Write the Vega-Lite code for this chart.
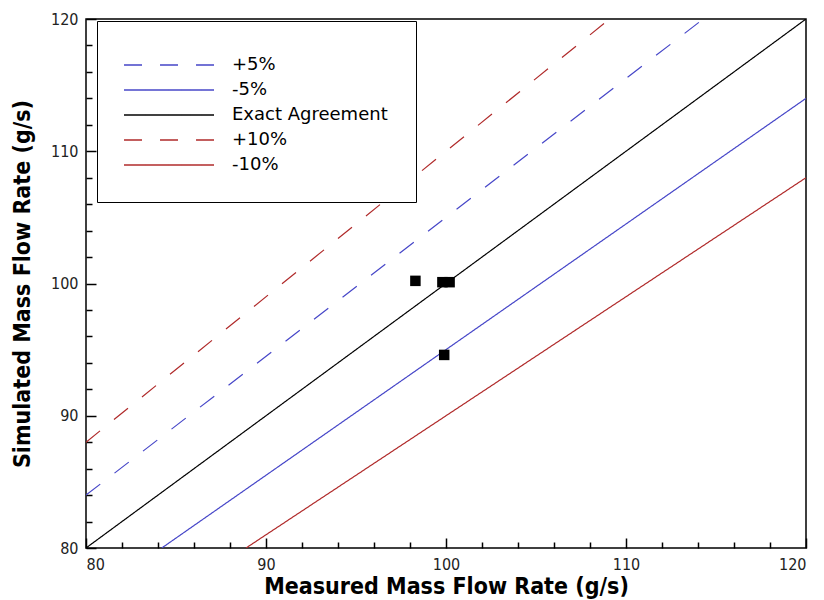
{
  "$schema": "https://vega.github.io/schema/vega-lite/v6.json",
  "width": 720,
  "height": 529,
  "autosize": {"type": "none"},
  "padding": {"left": 86, "top": 19, "right": 18, "bottom": 52},
  "background": "white",
  "config": {
    "view": {"stroke": "black", "strokeWidth": 1.5},
    "axis": {
      "grid": false,
      "domain": false,
      "labelFont": "Liberation Sans Narrow, Arial Narrow, DejaVu Sans Condensed, sans-serif",
      "labelFontSize": 16,
      "labelColor": "#222",
      "titleFont": "Liberation Sans Narrow, Arial Narrow, DejaVu Sans Condensed, sans-serif",
      "titleFontSize": 23,
      "titleFontWeight": "bold",
      "titleColor": "black"
    },
    "legend": {
      "labelFont": "DejaVu Sans, sans-serif",
      "labelFontSize": 18,
      "labelColor": "black"
    }
  },
  "datasets": {
    "lines": [
      {"series": "+5%", "x": 80, "y": 84},
      {"series": "+5%", "x": 114.29, "y": 120},
      {"series": "-5%", "x": 84.21, "y": 80},
      {"series": "-5%", "x": 120, "y": 114},
      {"series": "Exact Agreement", "x": 80, "y": 80},
      {"series": "Exact Agreement", "x": 120, "y": 120},
      {"series": "+10%", "x": 80, "y": 88},
      {"series": "+10%", "x": 109.09, "y": 120},
      {"series": "-10%", "x": 88.89, "y": 80},
      {"series": "-10%", "x": 120, "y": 108}
    ],
    "points": [
      {"measured": 98.3, "simulated": 100.2},
      {"measured": 99.8, "simulated": 100.1},
      {"measured": 100.2, "simulated": 100.1},
      {"measured": 99.9, "simulated": 94.6}
    ]
  },
  "layer": [
    {
      "data": {"name": "lines"},
      "mark": {"type": "line", "strokeWidth": 1.2, "clip": true},
      "encoding": {
        "x": {
          "field": "x", "type": "quantitative",
          "scale": {"domain": [80, 120], "nice": false, "zero": false},
          "axis": {
            "orient": "bottom",
            "title": "Measured Mass Flow Rate (g/s)",
            "values": [80, 90, 100, 110, 120],
            "ticks": true,
            "tickColor": "black",
            "tickWidth": 1.5,
            "offset": -10,
            "tickSize": 10,
            "labelPadding": 8,
            "titlePadding": 3
          }
        },
        "y": {
          "field": "y", "type": "quantitative",
          "scale": {"domain": [80, 120], "nice": false, "zero": false},
          "axis": {
            "orient": "left",
            "title": "Simulated Mass Flow Rate (g/s)",
            "values": [80, 90, 100, 110, 120],
            "ticks": true,
            "tickColor": "black",
            "tickWidth": 1.5,
            "offset": -10,
            "tickSize": 10,
            "labelPadding": 8,
            "titlePadding": 16
          }
        },
        "color": {
          "field": "series", "type": "nominal",
          "scale": {
            "domain": ["+5%", "-5%", "Exact Agreement", "+10%", "-10%"],
            "range": ["#4646c8", "#4646c8", "#000000", "#b02a2a", "#b02a2a"]
          },
          "legend": {
            "title": null,
            "orient": "none",
            "legendX": 11,
            "legendY": 2,
            "strokeColor": "black",
            "fillColor": "white",
            "padding": 28,
            "symbolType": "M-1.133,0H4.867",
            "symbolSize": 900,
            "symbolStrokeWidth": 1.5,
            "labelOffset": 75,
            "rowPadding": -1
          }
        },
        "strokeDash": {
          "field": "series", "type": "nominal",
          "scale": {
            "domain": ["+5%", "-5%", "Exact Agreement", "+10%", "-10%"],
            "range": [[18, 18], [1, 0], [1, 0], [18, 18], [1, 0]]
          },
          "legend": null
        }
      }
    },
    {
      "data": {"name": "points"},
      "mark": {"type": "square", "filled": true, "color": "black", "size": 110, "opacity": 1},
      "encoding": {
        "x": {
          "field": "measured", "type": "quantitative",
          "axis": {
            "orient": "bottom",
            "title": null,
            "labels": false,
            "ticks": true,
            "tickColor": "black",
            "tickWidth": 1.5,
            "values": [82, 84, 86, 88, 92, 94, 96, 98, 102, 104, 106, 108, 112, 114, 116, 118],
            "offset": -6,
            "tickSize": 6
          }
        },
        "y": {
          "field": "simulated", "type": "quantitative",
          "axis": {
            "orient": "left",
            "title": null,
            "labels": false,
            "ticks": true,
            "tickColor": "black",
            "tickWidth": 1.5,
            "values": [82, 84, 86, 88, 92, 94, 96, 98, 102, 104, 106, 108, 112, 114, 116, 118],
            "offset": -6,
            "tickSize": 6
          }
        }
      }
    }
  ],
  "resolve": {"axis": {"x": "independent", "y": "independent"}}
}
